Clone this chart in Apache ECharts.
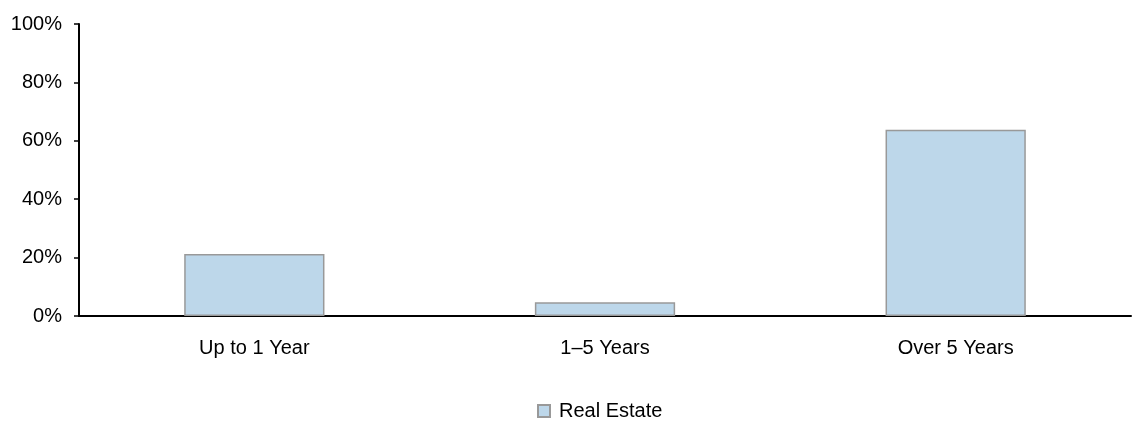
<!DOCTYPE html>
<html>
<head>
<meta charset="utf-8">
<script src="https://cdn.jsdelivr.net/npm/echarts@6/dist/echarts.min.js"></script>
<style>
  html, body { margin: 0; padding: 0; background: #fff; }
  #chart { width: 1134px; height: 421px; }
</style>
</head>
<body>
<div id="chart"></div>
<script>
// Maturity buckets and the share of real estate holdings in each
const categories = ['Up to 1 Year', '1–5 Years', 'Over 5 Years'];
const realEstate = [21.2, 4.7, 63.8];
const yTicks = [0, 20, 40, 60, 80, 100];

const chart = echarts.init(document.getElementById('chart'));
const font = 'Liberation Sans, Arial, sans-serif';

chart.setOption({
  animation: false,
  grid: { left: 79, right: 3, top: 24, bottom: 105, containLabel: false },
  legend: {
    top: 396,
    left: 532,
    icon: 'rect',
    itemWidth: 12,
    itemHeight: 12,
    textStyle: { fontFamily: font, fontSize: 20, color: '#000', padding: [0, 0, 0, 4] },
    data: ['Real Estate']
  },
  xAxis: {
    type: 'category',
    data: categories,
    axisLine: { lineStyle: { color: '#000', width: 2 } },
    axisTick: { show: false },
    axisLabel: { fontFamily: font, fontSize: 20, color: '#000', margin: 22 }
  },
  yAxis: {
    type: 'value',
    min: yTicks[0],
    max: yTicks[yTicks.length - 1],
    interval: 20,
    axisLine: { show: true, lineStyle: { color: '#000', width: 2 } },
    axisTick: { show: true, inside: false, length: 5, lineStyle: { color: '#000', width: 1.5 } },
    splitLine: { show: false },
    axisLabel: { fontFamily: font, fontSize: 20, color: '#000', margin: 17, formatter: v => v + '%' }
  },
  series: [{
    name: 'Real Estate',
    type: 'bar',
    data: realEstate,
    barWidth: '40%',
    itemStyle: { color: '#BDD7EA', borderColor: '#999999', borderWidth: 1.5 }
  }]
});
</script>
</body>
</html>
